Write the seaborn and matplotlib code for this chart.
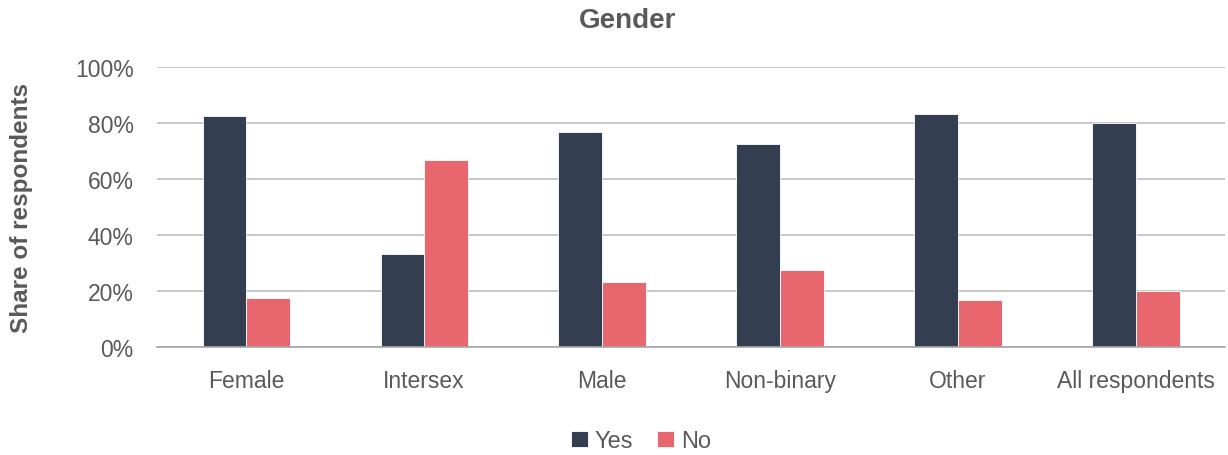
import pandas as pd
import seaborn as sns
import matplotlib.pyplot as plt
from matplotlib.ticker import PercentFormatter, FixedLocator

categories = ["Female", "Intersex", "Male", "Non-binary", "Other", "All respondents"]
yes_share = [82.4, 33.3, 76.9, 72.6, 83.3, 80.1]
no_share = [17.6, 66.7, 23.1, 27.4, 16.7, 19.9]

df = pd.DataFrame({"category": categories, "Yes": yes_share, "No": no_share})
df = df.melt(id_vars="category", var_name="answer", value_name="share")

sns.set_theme(style="white")
plt.rcParams["font.family"] = ["Liberation Sans", "DejaVu Sans"]

text_col = "#595959"

fig = plt.figure(figsize=(12.28, 4.56), dpi=100)
ax = fig.add_axes([0.128, 0.237, 0.8695, 0.614])

sns.barplot(
    data=df,
    x="category",
    y="share",
    hue="answer",
    palette={"Yes": "#333f50", "No": "#e8676f"},
    width=0.49,
    edgecolor="#ffffff",
    linewidth=0.6,
    saturation=1,
    ax=ax,
)

ax.set_ylim(0, 100)
ax.set_xlim(-0.5, len(categories) - 0.5)
ax.yaxis.set_major_locator(FixedLocator([0, 20, 40, 60, 80, 100]))
ax.yaxis.set_major_formatter(PercentFormatter(decimals=0))
ax.grid(axis="y", color="#bfbfbf", linewidth=1.2)
ax.set_axisbelow(True)

for side in ["top", "right", "left"]:
    ax.spines[side].set_visible(False)
ax.spines["bottom"].set_color("#a6a6a6")
ax.spines["bottom"].set_linewidth(1.2)

ax.tick_params(axis="x", which="major", length=0, pad=16, labelsize=16.5, labelcolor=text_col)
ax.xaxis.set_minor_locator(FixedLocator([i - 0.5 for i in range(len(categories) + 1)]))
ax.tick_params(axis="x", which="minor", length=7, width=1.2, color="#a6a6a6")
ax.tick_params(axis="y", length=5, width=1, color="#bfbfbf", labelsize=16.5, labelcolor=text_col, pad=12)

ax.set_xlabel("")
ax.set_ylabel("Share of respondents", fontsize=17.5, fontweight="bold", color=text_col, labelpad=30)
fig.text(0.511, 0.955, "Gender", fontsize=20, fontweight="bold", color=text_col,
         ha="center", va="center")

ax.legend(
    loc="center",
    bbox_to_anchor=(0.522, 0.03),
    bbox_transform=fig.transFigure,
    ncol=2,
    frameon=False,
    fontsize=17,
    handlelength=0.7,
    handleheight=0.7,
    handletextpad=0.3,
    columnspacing=1.0,
    labelcolor=text_col,
)

fig.savefig("out.png", dpi=100)
